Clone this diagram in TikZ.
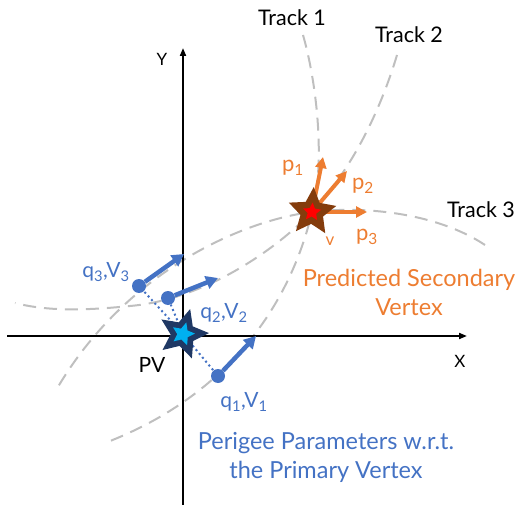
\documentclass[tikz,border=0pt]{standalone}
\usepackage{fontspec}
\setmainfont{Lato}
\usetikzlibrary{shapes.geometric,arrows.meta}
\definecolor{pblue}{HTML}{4472C4}
\definecolor{porange}{HTML}{ED7D31}
\definecolor{pbrown}{HTML}{843C0C}
\definecolor{pnavy}{HTML}{1F3864}
\definecolor{plight}{HTML}{00B0F0}
\definecolor{pgray}{HTML}{BFBFBF}
\tikzset{
  track/.style={pgray, line width=2pt, dash pattern=on 13pt off 8pt},
  axis/.style={black, line width=1.8pt, -{Triangle[length=8pt,width=6pt]}},
  mom/.style={pblue, line width=4.5pt, -{Triangle[length=12pt,width=13pt]}},
  pmom/.style={porange, line width=4pt, -{Triangle[length=11pt,width=11pt]}},
  dot/.style={circle, fill=pblue, inner sep=0pt, minimum size=14pt},
  link/.style={pblue, line width=2pt, dash pattern=on 2pt off 3pt},
  lbl/.style={font=\fontsize{21.5}{23}\selectfont, inner sep=0pt},
  blbl/.style={lbl, text=pblue, font=\fontsize{21}{23}\selectfont},
  olbl/.style={lbl, text=porange, font=\fontsize{22}{23}\selectfont},
  big/.style={font=\fontsize{23.5}{29}\selectfont, align=center, inner sep=0pt},
  starbase/.style={star, star points=5, star point ratio=2.1, inner sep=0pt},
}
\begin{document}
\begin{tikzpicture}[x=1pt,y=-1pt]
\useasboundingbox (0,0) rectangle (519,505);
% vertices
\coordinate (pv) at (183,334);
\coordinate (sv) at (312,212);
% tracks
\draw[track] (303,35) .. controls (316,80) and (326,160) .. (sv)
  .. controls (296,280) and (248,388) .. (105,443);
\draw[track] (397,55) .. controls (385,95) and (360,160) .. (sv)
  .. controls (270,255) and (200,300) .. (130,306)
  .. controls (90,310) and (50,312) .. (15,303);
\draw[track] (485,245) .. controls (440,215) and (370,205) .. (sv)
  .. controls (245,220) and (125,270) .. (55,392);
% axes
\coordinate (xs) at (7,336);
\coordinate (xe) at (467,336);
\coordinate (ys) at (183,505);
\coordinate (ye) at (183,48);
\draw[axis] (xs) -- (xe);
\draw[axis] (ys) -- (ye);
\node[lbl, font=\fontsize{17}{18}\selectfont] (ylab) at (162,59) {Y};
\node[lbl, font=\fontsize{17}{18}\selectfont] (xlab) at (460,361) {X};
% perigee points
\node[dot] (q1) at (218,376) {};
\node[dot] (q2) at (168,298) {};
\node[dot] (q3) at (139,286) {};
\coordinate (t1) at (256,336);
\coordinate (t2) at (218,278);
\coordinate (t3) at (184,254);
\draw[link] (pv) -- (q1);
\draw[link] (pv) -- (q2);
\draw[link] (pv) -- (q3);
\draw[mom] (q1) -- (t1);
\draw[mom] (q2) -- (t2);
\draw[mom] (q3) -- (t3);
% secondary momenta
\coordinate (p1e) at (323,157);
\coordinate (p2e) at (347,171);
\coordinate (p3e) at (367,212);
\draw[pmom] (sv) -- (p1e);
\draw[pmom] (sv) -- (p2e);
\draw[pmom] (sv) -- (p3e);
% stars
\node[starbase, minimum size=50pt, fill=pbrown, rotate=-4] (svstar) at (sv) {};
\node[starbase, minimum size=19pt, fill=red, rotate=-4] (svin) at (sv) {};
\node[starbase, minimum size=52pt, fill=pnavy, rotate=-16] (pvstar) at (pv) {};
\node[starbase, minimum size=24pt, fill=plight, rotate=-16] (pvin) at (pv) {};
% labels
\node[lbl] (tr1) at (292,18) {Track 1};
\node[lbl] (tr2) at (409,35) {Track 2};
\node[lbl] (tr3) at (481,210) {Track 3};
\node[lbl, font=\fontsize{21}{23}\selectfont] (pvl) at (152,365) {PV};
\node[olbl] (p1l) at (293,168) {p\textsubscript{1}};
\node[olbl] (p2l) at (363,186) {p\textsubscript{2}};
\node[olbl] (p3l) at (367,237) {p\textsubscript{3}};
\node[olbl, font=\fontsize{17}{18}\selectfont] (vl) at (330,241) {v};
\node[blbl] (q3l) at (106,272) {q\textsubscript{3},V\textsubscript{3}};
\node[blbl] (q2l) at (224,313) {q\textsubscript{2},V\textsubscript{2}};
\node[blbl] (q1l) at (244,402) {q\textsubscript{1},V\textsubscript{1}};
\node[big, text=porange] (svl) at (409,292) {Predicted Secondary\\Vertex};
\node[big, text=pblue] (pvt) at (326,457) {Perigee Parameters w.r.t.\\the Primary Vertex};
\end{tikzpicture}
\end{document}
